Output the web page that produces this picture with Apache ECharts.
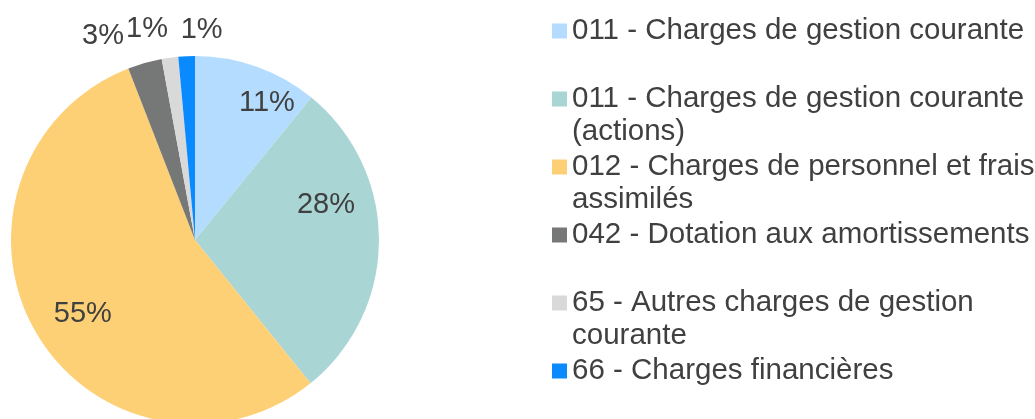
<!DOCTYPE html>
<html>
<head>
<meta charset="utf-8">
<script src="https://cdn.jsdelivr.net/npm/echarts@6/dist/echarts.min.js"></script>
<style>
  html, body { margin: 0; padding: 0; background: #fff; }
  #chart { width: 1035px; height: 419px; }
</style>
</head>
<body>
<div id="chart"></div>
<script>
// ---- data ----
const categories = [
  "011 - Charges de gestion courante",
  "011 - Charges de gestion courante (actions)",
  "012 - Charges de personnel et frais assimilés",
  "042 - Dotation aux amortissements",
  "65 - Autres charges de gestion courante",
  "66 - Charges financières"
];
const shares = [10.9, 28.3, 54.9, 3.0, 1.45, 1.45];
const legendLabels = [
  "011 - Charges de gestion courante\n",
  "011 - Charges de gestion courante\n(actions)",
  "012 - Charges de personnel et frais\nassimilés",
  "042 - Dotation aux amortissements\n",
  "65 - Autres charges de gestion\ncourante",
  "66 - Charges financières\n"
];

// ---- style ----
const colors = ["#B4DCFF", "#A9D5D5", "#FED076", "#767878", "#D9D9D9", "#0A8AFF"];
const labelNudge = [[40, -48], [36, -35], [-30, 26], [-66, -113], [-35, -117], [11, -115]];
const FONT = "'Liberation Sans', Arial, sans-serif";
const TEXT = "#404040";
// square marker sitting at the top of a tall (15 x 48) icon box, so it lines up with the first text line
const MARKER = 'path://M0,0L15,0L15,15L0,15Z M0,48L0.001,48';

const chart = echarts.init(document.getElementById('chart'), null, { renderer: 'canvas' });
chart.setOption({
  animation: false,
  backgroundColor: '#ffffff',
  color: colors,
  legend: {
    orient: 'vertical',
    left: 552,
    top: 14.5,
    height: 600,
    padding: 0,
    itemGap: 2,
    itemWidth: 15,
    itemHeight: 48,
    icon: MARKER,
    selectedMode: false,
    data: categories,
    formatter: function (name) { return legendLabels[categories.indexOf(name)]; },
    textStyle: {
      fontFamily: FONT,
      fontSize: 29.5,
      color: TEXT,
      lineHeight: 33
    }
  },
  series: [{
    type: 'pie',
    center: [195, 240],
    radius: [0, 184],
    startAngle: 90,
    clockwise: true,
    silent: true,
    data: categories.map((c, i) => ({ name: c, value: shares[i] })),
    itemStyle: { borderWidth: 0 },
    label: {
      show: true,
      position: 'inside',
      fontFamily: FONT,
      fontSize: 29,
      color: TEXT,
      formatter: function (p) { return Math.round(p.percent) + '%'; }
    },
    labelLine: { show: false },
    labelLayout: function (p) {
      const n = labelNudge[p.dataIndex];
      return { dx: n[0], dy: n[1] };
    }
  }]
});
</script>
</body>
</html>
